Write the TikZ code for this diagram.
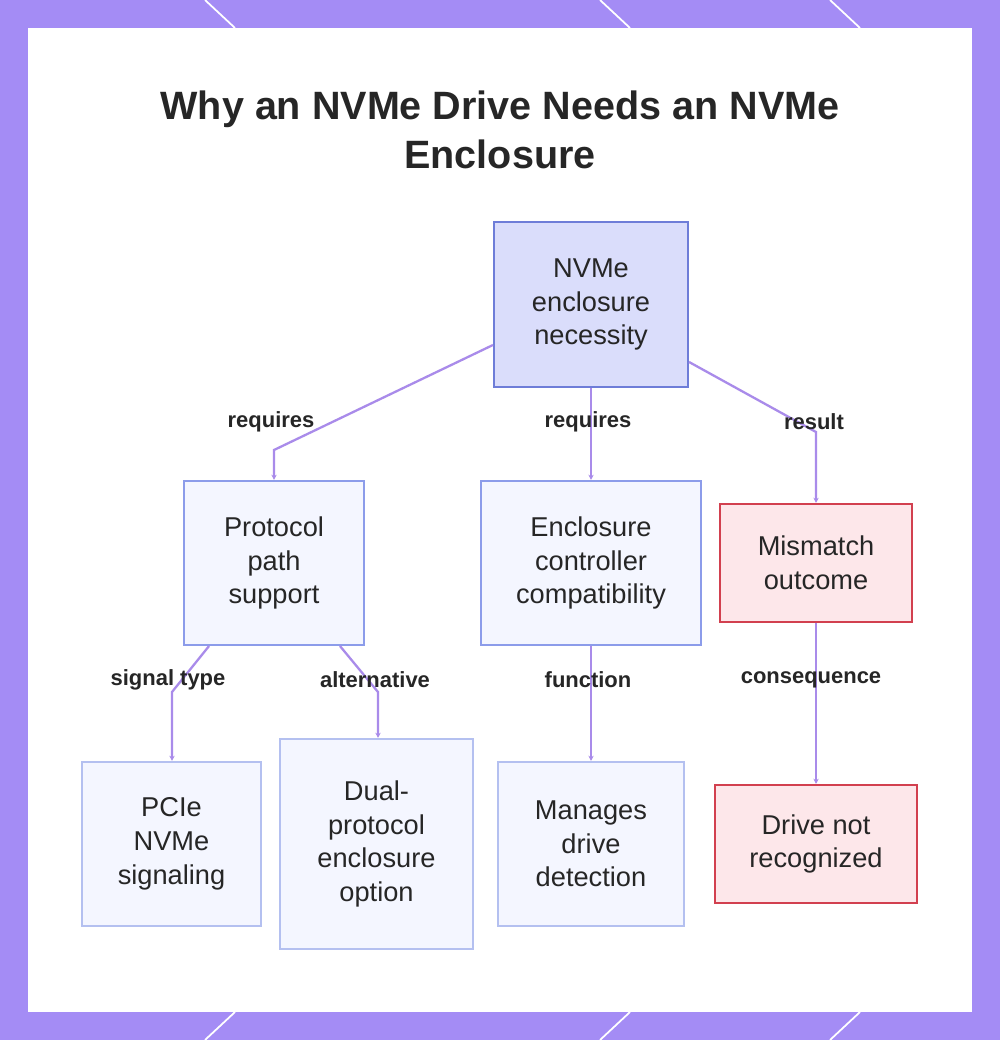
\documentclass[tikz,border=0pt]{standalone}
\usepackage{fontspec}
\setmainfont{Liberation Sans}
\usetikzlibrary{arrows.meta}
\definecolor{frame}{HTML}{A48CF5}
\definecolor{link}{HTML}{A98BEA}
\definecolor{rootfill}{HTML}{DADDFB}
\definecolor{rootline}{HTML}{6E7DD8}
\definecolor{boxfill}{HTML}{F4F6FF}
\definecolor{boxline}{HTML}{8C9CEA}
\definecolor{leafline}{HTML}{B4C0F0}
\definecolor{badfill}{HTML}{FDE7EA}
\definecolor{badline}{HTML}{D2404F}

\begin{document}
\begin{tikzpicture}[x=0.02cm,y=-0.02cm,
    box/.style={draw=boxline,fill=boxfill,line width=1.2pt,align=center,font=\fontsize{15.5}{19.2}\selectfont,text=black!85},
    root/.style={box,draw=rootline,fill=rootfill},
    leaf/.style={box,draw=leafline},
    bad/.style={box,draw=badline,fill=badfill},
    link/.style={draw=link,line width=1.3pt,-{Stealth[length=3pt,width=3pt]}},
    lbl/.style={font=\bfseries\fontsize{12.5}{15}\selectfont,text=black!85}]
    % frame
    \fill[frame] (0,0) rectangle (1000,1040);
    \fill[white] (28,28) rectangle (972,1012);
    \useasboundingbox (0,0) rectangle (1000,1040);
    \foreach \a/\b in {205/235,600/630,830/860}{
      \draw[white,line width=1pt] (\a,0) -- (\b,28);
      \draw[white,line width=1pt] (\a,1040) -- (\b,1012);}
    % title
    \node[font=\bfseries\fontsize{22.5}{28}\selectfont,align=center,text=black!85] (title) at (500,130)
      {Why an NVMe Drive Needs an NVMe\\Enclosure};

    % nodes
    \node[root,minimum width=3.88cm,minimum height=3.3cm] (need) at (591,304.5) {NVMe\\enclosure\\necessity};
    \node[box,minimum width=3.6cm,minimum height=3.28cm] (path) at (274,563) {Protocol\\path\\support};
    \node[box,minimum width=4.4cm,minimum height=3.28cm] (ctrl) at (591,563) {Enclosure\\controller\\compatibility};
    \node[bad,minimum width=3.84cm,minimum height=2.36cm] (miss) at (816,563) {Mismatch\\outcome};
    \node[leaf,minimum width=3.58cm,minimum height=3.28cm] (pcie) at (171.5,844) {PCIe\\NVMe\\signaling};
    \node[leaf,minimum width=3.86cm,minimum height=4.2cm] (dual) at (376.5,844) {Dual-\\protocol\\enclosure\\option};
    \node[leaf,minimum width=3.72cm,minimum height=3.28cm] (mgr) at (591,844) {Manages\\drive\\detection};
    \node[bad,minimum width=4.04cm,minimum height=2.36cm] (nrec) at (816,844) {Drive not\\recognized};

    % bends
    \coordinate (b1) at (274,450);
    \coordinate (b2) at (816,432);
    \coordinate (b3) at (172,692);
    \coordinate (b4) at (378,692);

    % links
    \draw[link] ([yshift=-0.81cm]need.west) -- (b1) -- (path.north);
    \draw[link] (need.south) -- (ctrl.north);
    \draw[link] ([yshift=-1.15cm]need.east) -- (b2) -- (miss.north);
    \draw[link] ([xshift=-1.3cm]path.south) -- (b3) -- (b3 |- pcie.north);
    \draw[link] ([xshift=1.32cm]path.south) -- (b4) -- (b4 |- dual.north);
    \draw[link] (ctrl.south) -- (mgr.north);
    \draw[link] (miss.south) -- (nrec.north);

    % labels
    \node[lbl] (l1) at (271,422) {requires};
    \node[lbl] (l2) at (588,422) {requires};
    \node[lbl] (l3) at (814,422) {result};
    \node[lbl] (l4) at (168,680) {signal type};
    \node[lbl] (l5) at (375,680) {alternative};
    \node[lbl] (l6) at (588,680) {function};
    \node[lbl] (l7) at (811,680) {consequence};
\end{tikzpicture}
\end{document}
